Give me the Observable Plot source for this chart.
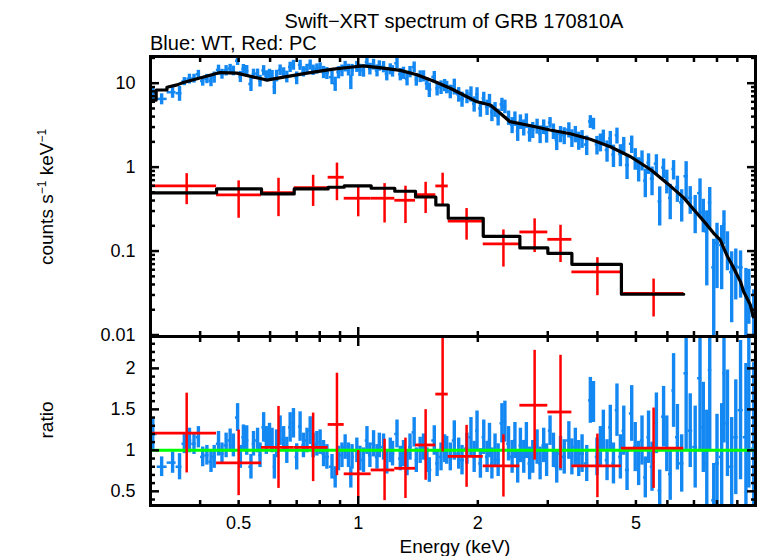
<!DOCTYPE html>
<html><head><meta charset="utf-8">
<script src="https://cdn.jsdelivr.net/npm/d3@7"></script>
<script src="https://cdn.jsdelivr.net/npm/@observablehq/plot@0.6"></script>
<style>
body{margin:0;background:#fff;}
#wrap{position:relative;width:758px;height:556px;background:#fff;overflow:hidden;font-family:"Liberation Sans",Arial,sans-serif;}
#wrap svg{position:absolute;left:0;}
</style></head><body>
<div id="wrap"></div>
<script>
// ---------- data ----------
const titleText = "Swift\u2212XRT spectrum of GRB 170810A";
const subtitleText = "Blue: WT, Red: PC";
const xLabel = "Energy (keV)";

// WT (blue) spectrum: bin centre energy (keV), counts/s/keV, ratio, ratio error
const wtE = [
 0.304,0.320,0.341,0.355,0.365,0.376,0.386,0.396,0.406,0.416,
 0.426,0.434,0.445,0.454,0.465,0.476,0.485,0.497,0.505,0.514,
 0.524,0.537,0.545,0.558,0.566,0.578,0.587,0.598,0.607,0.615,
 0.623,0.636,0.649,0.661,0.674,0.687,0.700,0.714,0.728,0.743,
 0.757,0.770,0.787,0.802,0.818,0.834,0.859,0.875,0.892,0.910,
 0.927,0.945,0.958,0.965,0.992,1.010,1.031,1.052,1.070,1.093,
 1.115,1.130,1.158,1.180,1.204,1.220,1.252,1.276,1.300,1.327,
 1.350,1.383,1.400,1.432,1.460,1.489,1.510,1.554,1.580,1.616,
 1.650,1.670,1.705,1.745,1.790,1.825,1.878,1.922,1.958,1.991,
 2.03,2.07,2.11,2.14,2.17,2.21,2.25,2.30,2.34,2.39,
 2.44,2.48,2.52,2.56,2.61,2.65,2.70,2.75,2.82,2.87,
 2.93,2.98,3.04,3.10,3.16,3.23,3.30,3.39,3.45,3.52,
 3.59,3.66,3.76,3.84,3.91,3.99,4.07,4.14,4.23,4.31,
 4.39,4.48,4.57,4.66,4.75,4.88,4.98,5.08,5.18,5.28,
 5.38,5.49,5.63,5.74,5.87,5.98,6.10,6.22,6.36,6.52,
 6.69,6.85,7.05,7.25,7.39,7.54,7.67,7.85,8.00,8.22,
 8.33,8.50,8.71,8.92,9.17,9.46,9.62,9.90];
const wtCounts = [
 7.6,6.5,7.8,7.6,10.5,11.3,11.4,12.8,10.6,11.3,
 10.7,11.8,14.4,12.9,14.2,14.9,14.1,18.5,12.0,14.8,
 14.0,9.8,12.9,13.0,10.7,14.2,12.2,13.0,12.5,9.0,
 12.3,14.4,13.5,12.0,15.6,16.5,11.6,16.5,13.8,14.8,
 16.6,14.4,14.9,15.4,13.6,13.2,11.8,9.9,13.5,14.2,
 15.9,14.5,10.4,14.4,15.8,14.4,14.2,17.9,14.9,16.8,
 14.2,16.2,15.7,12.9,14.8,14.0,17.3,12.8,13.3,11.3,
 13.7,15.6,11.1,12.1,12.2,9.9,8.4,11.9,8.7,9.0,
 9.5,9.0,8.0,9.2,7.4,6.5,7.0,7.5,5.7,7.4,
 5.0,6.6,5.2,6.2,4.5,4.9,4.0,5.6,5.3,3.9,
 3.2,3.8,2.7,3.5,3.0,3.6,2.6,2.8,3.1,2.5,
 3.05,2.5,3.4,2.7,2.1,2.5,2.4,2.8,2.25,2.5,
 2.1,2.2,1.86,3.5,3.3,1.86,2.0,2.3,1.6,2.2,
 1.41,2.4,1.43,1.82,1.06,1.9,1.29,0.98,1.23,0.69,
 1.13,0.73,1.10,0.39,0.99,0.70,0.43,0.95,0.58,0.38,
 0.78,0.43,0.31,0.49,0.29,0.17,0.38,0.064,0.125,0.118,
 0.21,0.114,0.056,0.066,0.064,0.035,0.037,0.017];
const wtRatio = [
 1.20,0.80,0.85,0.80,1.08,1.12,1.08,1.16,0.92,0.94,
 0.86,0.92,1.08,0.96,1.06,1.12,1.06,1.40,0.92,1.16,
 1.12,0.80,1.08,1.12,0.94,1.28,1.12,1.18,1.12,0.80,
 1.08,1.24,1.14,1.00,1.28,1.33,0.92,1.29,1.06,1.12,
 1.24,1.06,1.08,1.10,0.96,0.92,0.80,0.67,0.90,0.94,
 1.04,0.94,0.67,0.92,1.00,0.90,0.88,1.12,0.94,1.08,
 0.92,1.06,1.04,0.86,1.00,0.96,1.20,0.90,0.96,0.84,
 1.04,1.22,0.88,1.00,1.04,0.88,0.76,1.12,0.84,0.92,
 1.02,1.00,0.92,1.12,0.96,0.88,1.02,1.16,0.92,1.24,
 0.84,1.16,0.92,1.12,0.84,1.00,0.88,1.33,1.35,1.08,
 0.92,1.12,0.80,1.06,0.92,1.12,0.84,0.92,1.04,0.84,
 1.06,0.88,1.24,1.00,0.80,0.96,0.92,1.12,0.92,1.04,
 0.90,0.96,0.84,1.61,1.59,0.92,1.04,1.24,0.88,1.28,
 0.84,1.49,0.92,1.24,0.76,1.45,1.04,0.84,1.12,0.67,
 1.16,0.80,1.33,0.51,1.41,1.08,0.71,1.73,1.16,0.84,
 1.94,1.24,1.04,1.88,1.28,0.84,1.98,0.39,0.84,0.92,
 1.94,1.33,0.80,1.16,1.49,1.16,1.49,1.02];
const wtRatioErr = [
 0.20,0.12,0.13,0.16,0.12,0.15,0.13,0.13,0.12,0.12,
 0.13,0.14,0.15,0.13,0.15,0.14,0.14,0.17,0.14,0.15,
 0.18,0.15,0.15,0.15,0.15,0.18,0.17,0.15,0.15,0.15,
 0.17,0.18,0.15,0.16,0.18,0.18,0.16,0.18,0.15,0.15,
 0.17,0.15,0.15,0.15,0.16,0.15,0.15,0.13,0.15,0.15,
 0.15,0.15,0.13,0.15,0.15,0.15,0.15,0.17,0.15,0.16,
 0.15,0.15,0.16,0.15,0.15,0.15,0.17,0.15,0.16,0.15,
 0.16,0.18,0.15,0.16,0.16,0.15,0.15,0.18,0.16,0.17,
 0.17,0.17,0.17,0.24,0.19,0.18,0.19,0.24,0.19,0.24,
 0.18,0.21,0.19,0.21,0.19,0.20,0.20,0.24,0.25,0.21,
 0.20,0.22,0.20,0.21,0.20,0.22,0.20,0.20,0.21,0.20,
 0.21,0.20,0.18,0.21,0.20,0.21,0.21,0.23,0.22,0.23,
 0.22,0.23,0.22,0.28,0.25,0.23,0.25,0.25,0.25,0.27,
 0.25,0.32,0.27,0.30,0.25,0.34,0.30,0.27,0.30,0.25,
 0.32,0.30,0.37,0.25,0.37,0.34,0.32,0.45,0.40,0.35,
 0.95,0.45,0.50,0.90,0.55,0.65,1.00,0.45,0.60,0.65,
 0.85,0.65,0.60,0.70,0.85,0.90,0.95,1.05];

// WT model curve (black)
const wtModelE = [0.300,0.310,0.310,0.330,0.330,0.350,0.363,0.449,0.495,0.589,0.649,0.743,0.865,0.955,1.029,1.156,1.276,1.405,1.545,1.705,1.878,1.991,2.149,2.277,2.41,2.66,3.04,3.42,3.84,4.31,4.85,5.45,6.0,6.6,7.13,7.55,7.85,8.15,8.5,8.78,9.17,9.33,9.70,9.87];
const wtModel  = [6.3,6.3,8.3,8.3,8.96,9.55,10.2,13.4,13.2,10.9,11.8,13.2,14.7,15.5,16.1,15.1,14.2,12.6,10.6,8.7,6.9,6.0,5.5,4.39,3.48,3.18,2.77,2.5,2.15,1.75,1.33,0.93,0.64,0.43,0.28,0.205,0.163,0.136,0.086,0.065,0.043,0.033,0.023,0.0165];

// PC (red) spectrum: bin edges, centres, counts, errors, model (black steps)
const pcEdges = [0.30,0.440,0.571,0.690,0.840,0.922,1.078,1.236,1.394,1.568,1.685,2.064,2.552,3.001,3.450,4.597,6.597];
const pcE      = [0.37,0.50,0.63,0.77,0.884,1.00,1.165,1.315,1.478,1.631,1.874,2.32,2.78,3.23,4.00,5.54];
const pcCounts = [0.597,0.466,0.497,0.57,0.758,0.426,0.426,0.403,0.47,0.597,0.228,0.1215,0.169,0.138,0.0564,0.0314];
const pcErr    = [0.24,0.22,0.24,0.23,0.36,0.17,0.21,0.19,0.19,0.25,0.093,0.057,0.073,0.065,0.027,0.015];
const pcModel  = [0.493,0.55,0.48,0.55,0.576,0.597,0.56,0.516,0.441,0.354,0.246,0.15,0.109,0.094,0.0696,0.0306];

// axis ticks
const xMajor = [1];
const xMinor = [0.4,0.5,0.6,0.7,0.8,0.9,2,3,4,5,6,7,8,9];
const xTickLabels = [0.5,1,2,5];
const yTopMajor = [0.01,0.1,1,10];
const yTopMinor = [0.02,0.03,0.04,0.05,0.06,0.07,0.08,0.09,0.2,0.3,0.4,0.5,0.6,0.7,0.8,0.9,2,3,4,5,6,7,8,9,20];
const yBotMajor = [0.5,1,1.5,2];
const yBotMinor = [0.4,0.6,0.7,0.8,0.9,1.1,1.2,1.3,1.4,1.6,1.7,1.8,1.9,2.1,2.2,2.3];

// ---------- tables ----------
const BLUE = "#1488f2", RED = "#ff0000", GREEN = "#00ff00";
const n = wtE.length;
const wt = wtE.map((e, i) => {
  const lo = i > 0 ? Math.sqrt(wtE[i-1]*e) : e*e/Math.sqrt(e*wtE[i+1]);
  const hi = i < n-1 ? Math.sqrt(wtE[i+1]*e) : e*e/Math.sqrt(e*wtE[i-1]);
  const rel = wtRatioErr[i]/wtRatio[i];
  const c = wtCounts[i];
  return {e, lo, hi, c, cLo: Math.max(c*(1-rel), 1e-4), cHi: c*(1+rel),
          r: wtRatio[i], rLo: wtRatio[i]-wtRatioErr[i], rHi: wtRatio[i]+wtRatioErr[i]};
});
const wtModelPts = wtModelE.map((e, i) => ({e, m: wtModel[i]}));
const pc = pcE.map((e, i) => ({
  e, lo: pcEdges[i], hi: pcEdges[i+1], c: pcCounts[i],
  cLo: pcCounts[i]-pcErr[i], cHi: pcCounts[i]+pcErr[i],
  r: pcCounts[i]/pcModel[i], rLo: (pcCounts[i]-pcErr[i])/pcModel[i], rHi: (pcCounts[i]+pcErr[i])/pcModel[i]
}));
const pcStep = pcEdges.map((e, i) => ({e, m: pcModel[Math.min(i, pcModel.length-1)]}));

// ---------- axes helper ----------
const none = () => "";
function boxAxes(yMaj, yMin, yFmt) {
  const c = {label: null, strokeWidth: 2.5};
  return [
    Plot.axisX(xMajor, {...c, anchor: "top", tickSize: -9, tickFormat: none}),
    Plot.axisX(xMinor, {...c, anchor: "top", tickSize: -5, tickFormat: none}),
    Plot.axisX(xMajor, {...c, anchor: "bottom", tickSize: -9, tickFormat: none}),
    Plot.axisX(xMinor, {...c, anchor: "bottom", tickSize: -5, tickFormat: none}),
    Plot.axisY(yMaj, {...c, anchor: "left", tickSize: -9, tickPadding: 24, tickFormat: yFmt, fontSize: 18}),
    Plot.axisY(yMin, {...c, anchor: "left", tickSize: -5, tickFormat: none}),
    Plot.axisY(yMaj, {...c, anchor: "right", tickSize: -9, tickFormat: none}),
    Plot.axisY(yMin, {...c, anchor: "right", tickSize: -5, tickFormat: none}),
    Plot.frame({strokeWidth: 3})
  ];
}
const style = {background: "transparent", fontFamily: "Liberation Sans, Arial, sans-serif", fontSize: "18px", color: "#000"};

// ---------- top panel ----------
const topPlot = Plot.plot({
  width: 758, height: 346, marginLeft: 150, marginRight: 3, marginTop: 56, marginBottom: 10,
  style,
  x: {type: "log", domain: [0.3, 10]},
  y: {type: "log", domain: [0.0096, 20.8]},
  marks: [
    Plot.ruleX(wt, {x: "e", y1: "cLo", y2: "cHi", stroke: BLUE, strokeWidth: 3.4, clip: true}),
    Plot.ruleY(wt, {y: "c", x1: "lo", x2: "hi", stroke: BLUE, strokeWidth: 2.5, clip: true}),
    Plot.line(wtModelPts, {x: "e", y: "m", stroke: "#000", strokeWidth: 3.2, clip: true}),
    Plot.ruleX(pc, {x: "e", y1: "cLo", y2: "cHi", stroke: RED, strokeWidth: 2.5, clip: true}),
    Plot.ruleY(pc, {y: "c", x1: "lo", x2: "hi", stroke: RED, strokeWidth: 2.8, clip: true}),
    Plot.line(pcStep, {x: "e", y: "m", curve: "step-after", stroke: "#000", strokeWidth: 3.2, clip: true}),
    ...boxAxes(yTopMajor, yTopMinor, d => String(d))
  ]
});
topPlot.style.top = "0px";

// ---------- ratio panel ----------
const botPlot = Plot.plot({
  width: 758, height: 230, marginLeft: 150, marginRight: 3, marginTop: 10, marginBottom: 51,
  style,
  x: {type: "log", domain: [0.3, 10]},
  y: {type: "linear", domain: [0.327, 2.389]},
  marks: [
    Plot.ruleX(wt, {x: "e", y1: "rLo", y2: "rHi", stroke: BLUE, strokeWidth: 3.4, clip: true}),
    Plot.ruleY(wt, {y: "r", x1: "lo", x2: "hi", stroke: BLUE, strokeWidth: 2.5, clip: true}),
    Plot.ruleY([1], {stroke: GREEN, strokeWidth: 3}),
    Plot.ruleX(pc, {x: "e", y1: "rLo", y2: "rHi", stroke: RED, strokeWidth: 2.5, clip: true}),
    Plot.ruleY(pc, {y: "r", x1: "lo", x2: "hi", stroke: RED, strokeWidth: 2.8, clip: true}),
    ...boxAxes(yBotMajor, yBotMinor, d => String(d)),
    Plot.text(xTickLabels, {x: d => d, frameAnchor: "bottom", dy: 11, lineAnchor: "top", text: d => String(d), fontSize: 18, fill: "#000"})
  ]
});
botPlot.style.top = "326px";

// ---------- free text ----------
const txt = d3.create("svg").attr("width", 758).attr("height", 556)
  .style("top", "0px").style("pointer-events", "none")
  .attr("font-family", "Liberation Sans, Arial, sans-serif").attr("fill", "#000");
txt.append("text").attr("x", 454).attr("y", 28).attr("text-anchor", "middle").attr("font-size", 20).text(titleText);
txt.append("text").attr("x", 150).attr("y", 50).attr("font-size", 20).text(subtitleText);
const yl = txt.append("text").attr("transform", "translate(53,197) rotate(-90)").attr("text-anchor", "middle").attr("font-size", 19);
yl.append("tspan").text("counts s");
yl.append("tspan").attr("dy", -7).attr("font-size", 12).text("\u22121");
yl.append("tspan").attr("dy", 7).text(" keV");
yl.append("tspan").attr("dy", -7).attr("font-size", 12).text("\u22121");
txt.append("text").attr("transform", "translate(53,420) rotate(-90)").attr("text-anchor", "middle").attr("font-size", 19).text("ratio");
txt.append("text").attr("x", 455).attr("y", 553).attr("text-anchor", "middle").attr("font-size", 19).text(xLabel);

const wrap = document.getElementById("wrap");
wrap.append(topPlot, botPlot, txt.node());
</script>
</body></html>
